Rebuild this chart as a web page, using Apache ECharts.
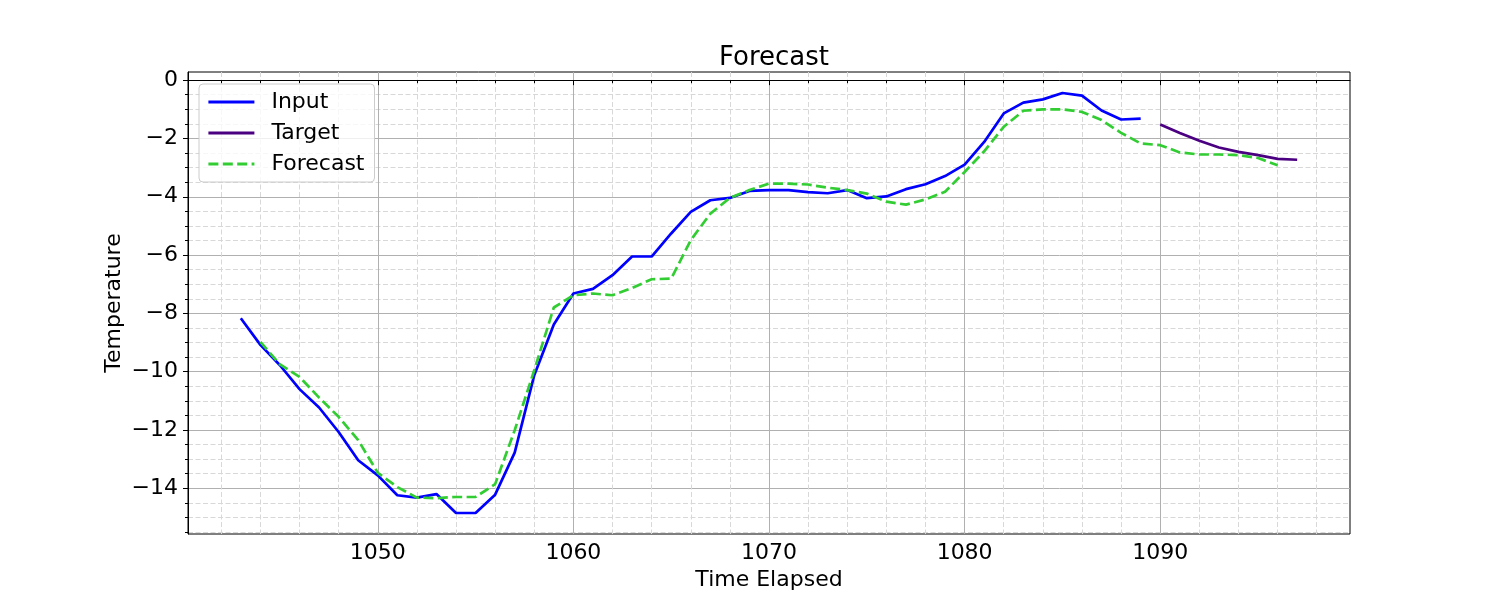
<!DOCTYPE html>
<html lang="en">
<head>
    <meta charset="UTF-8">
    <title>Forecast</title>
    <script src="https://cdn.jsdelivr.net/npm/echarts@6/dist/echarts.min.js"></script>
    <style>
        html, body { margin: 0; padding: 0; background: #fff; }
        #main { width: 1500px; height: 600px; }
    </style>
</head>
<body>
<div id="main"></div>
<script>
    // time steps (x) and temperatures (y)
    const inputTime = [1043, 1044, 1045, 1046, 1047, 1048, 1049, 1050, 1051, 1052,
        1053, 1054, 1055, 1056, 1057, 1058, 1059, 1060, 1061, 1062,
        1063, 1064, 1065, 1066, 1067, 1068, 1069, 1070, 1071, 1072,
        1073, 1074, 1075, 1076, 1077, 1078, 1079, 1080, 1081, 1082,
        1083, 1084, 1085, 1086, 1087, 1088, 1089];
    const inputTemp = [-8.17, -9.08, -9.78, -10.6, -11.23, -12.07, -13.04, -13.56, -14.24, -14.32,
        -14.2, -14.85, -14.85, -14.22, -12.78, -10.12, -8.38, -7.32, -7.16, -6.69,
        -6.05, -6.05, -5.26, -4.52, -4.12, -4.04, -3.80, -3.77, -3.77, -3.84,
        -3.88, -3.77, -4.05, -3.99, -3.74, -3.57, -3.29, -2.9, -2.12, -1.14,
        -0.77, -0.66, -0.44, -0.53, -1.04, -1.35, -1.32];

    const targetTime = [1090, 1091, 1092, 1093, 1094, 1095, 1096, 1097];
    const targetTemp = [-1.52, -1.81, -2.08, -2.31, -2.46, -2.57, -2.70, -2.73];

    const forecastTime = [1044, 1045, 1046, 1047, 1048, 1049, 1050, 1051, 1052, 1053,
        1054, 1055, 1056, 1057, 1058, 1059, 1060, 1061, 1062, 1063,
        1064, 1065, 1066, 1067, 1068, 1069, 1070, 1071, 1072, 1073,
        1074, 1075, 1076, 1077, 1078, 1079, 1080, 1081, 1082, 1083,
        1084, 1085, 1086, 1087, 1088, 1089, 1090, 1091, 1092, 1093,
        1094, 1095, 1096];
    const forecastTemp = [-8.98, -9.75, -10.18, -10.89, -11.55, -12.35, -13.47, -13.96, -14.32, -14.34,
        -14.3, -14.3, -13.86, -12.01, -9.95, -7.8, -7.38, -7.32, -7.38, -7.13,
        -6.83, -6.81, -5.49, -4.58, -4.04, -3.77, -3.55, -3.55, -3.58, -3.69,
        -3.77, -3.89, -4.17, -4.27, -4.09, -3.83, -3.15, -2.44, -1.6, -1.05,
        -1.0, -1.0, -1.09, -1.37, -1.81, -2.17, -2.23, -2.48, -2.55, -2.55,
        -2.57, -2.67, -2.92];

    // tick labels
    const xTicks = [1050, 1060, 1070, 1080, 1090];
    const yTicks = [0, -2, -4, -6, -8, -10, -12, -14];

    const FONT = 'DejaVu Sans';

    function pairs(xs, ys) {
        return xs.map((x, i) => [x, ys[i]]);
    }

    const chart = echarts.init(document.getElementById('main'));

    const option = {
        animation: false,
        backgroundColor: '#fff',
        title: {
            text: 'Forecast',
            left: 769,
            textAlign: 'center',
            top: 40,
            textStyle: { fontFamily: FONT, fontSize: 26, fontWeight: 'normal', color: '#000' }
        },
        legend: {
            left: 199,
            top: 84,
            orient: 'vertical',
            itemWidth: 46,
            itemHeight: 16,
            itemGap: 9,
            padding: [7, 10, 7, 8],
            backgroundColor: 'rgba(255,255,255,0.8)',
            borderColor: '#cccccc',
            borderWidth: 1,
            borderRadius: 4,
            itemStyle: { opacity: 0 },   // hide the dot on the legend line icon
            lineStyle: { width: 2.8 },
            textStyle: { fontFamily: FONT, fontSize: 22, color: '#000', padding: [0, 0, 0, 12] },
            data: ['Input', 'Target', 'Forecast']
        },
        grid: {
            left: 188,
            right: 150,
            top: 72,
            bottom: 66,
            show: true,
            borderColor: '#000',
            borderWidth: 1,
            backgroundColor: 'transparent'
        },
        xAxis: {
            type: 'value',
            min: 1040.3,
            max: 1099.7,
            splitNumber: 5,
            name: 'Time Elapsed',
            nameLocation: 'middle',
            nameGap: 32,
            nameTextStyle: { fontFamily: FONT, fontSize: 22, color: '#000' },
            axisLine: { lineStyle: { color: '#000', width: 1 } },
            axisTick: { show: true, length: 5, customValues: xTicks, lineStyle: { color: '#000' } },
            axisLabel: {
                customValues: xTicks,
                margin: 8,
                fontFamily: FONT, fontSize: 22, color: '#000',
                formatter: v => String(v)
            },
            splitLine: { show: true, lineStyle: { color: '#b0b0b0', width: 1 } },
            minorTick: { show: true, splitNumber: 5, length: 3, lineStyle: { color: '#000' } },
            minorSplitLine: { show: true, lineStyle: { color: '#d8d8d8', width: 1, type: [5, 2.5] } }
        },
        yAxis: {
            type: 'value',
            min: -15.57,
            max: 0.28,
            splitNumber: 8,
            name: 'Temperature',
            nameLocation: 'middle',
            nameGap: 63,
            nameMoveOverlap: false,
            nameTextStyle: { fontFamily: FONT, fontSize: 22, color: '#000' },
            axisLine: { show: true, lineStyle: { color: '#000', width: 1 } },
            axisTick: { show: true, length: 5, customValues: yTicks, lineStyle: { color: '#000' } },
            axisLabel: {
                customValues: yTicks,
                margin: 10,
                fontFamily: FONT, fontSize: 22, color: '#000',
                formatter: v => (v < 0 ? '\u2212' + Math.abs(v) : String(v))
            },
            splitLine: { show: true, lineStyle: { color: '#b0b0b0', width: 1 } },
            minorTick: { show: true, splitNumber: 4, length: 3, lineStyle: { color: '#000' } },
            minorSplitLine: { show: true, lineStyle: { color: '#d8d8d8', width: 1, type: [5, 2.5] } }
        },
        series: [
            {
                name: 'Input',
                type: 'line',
                data: pairs(inputTime, inputTemp),
                symbol: 'none',
                showSymbol: false,
                itemStyle: { color: '#0000ff' },
                lineStyle: { color: '#0000ff', width: 2.7 }
            },
            {
                name: 'Target',
                type: 'line',
                data: pairs(targetTime, targetTemp),
                symbol: 'none',
                showSymbol: false,
                itemStyle: { color: '#4b0082' },
                lineStyle: { color: '#4b0082', width: 2.7 }
            },
            {
                name: 'Forecast',
                type: 'line',
                data: pairs(forecastTime, forecastTemp),
                symbol: 'none',
                showSymbol: false,
                itemStyle: { color: '#32cd32' },
                lineStyle: { color: '#32cd32', width: 2.7, type: [10, 4.4] }
            }
        ]
    };

    chart.setOption(option);
</script>
</body>
</html>
